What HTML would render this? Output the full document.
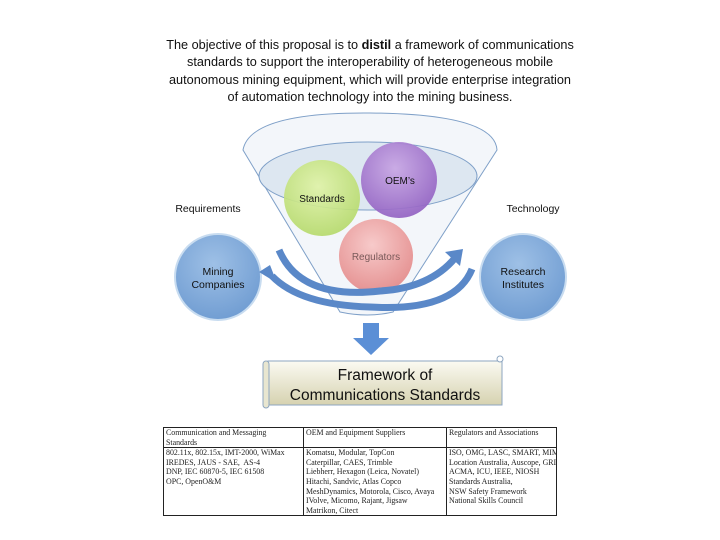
<!DOCTYPE html>
<html><head><style>
body{margin:0;width:720px;height:540px;background:#fff;overflow:hidden;font-family:"Liberation Sans",sans-serif;}
.t{position:absolute;left:0;top:37px;width:740px;text-align:center;font-size:12.7px;line-height:17.3px;color:#111;}
table{position:absolute;left:163px;top:427px;width:394px;border-collapse:collapse;font-family:"Liberation Serif",serif;font-size:7.9px;line-height:9.6px;color:#222;table-layout:fixed;}
td{border:1.3px solid #222;vertical-align:top;padding:0 2px;white-space:nowrap;overflow:hidden;}
</style></head><body>
<div class="t">The objective of this proposal is to <b>distil</b> a framework of communications<br>standards to support the interoperability of heterogeneous mobile<br>autonomous mining equipment, which will provide enterprise integration<br>of automation technology into the mining business.</div>
<svg width="720" height="540" style="position:absolute;left:0;top:0" font-family="Liberation Sans,sans-serif">
<defs>
<radialGradient id="gb" cx="0.45" cy="0.35" r="0.7"><stop offset="0" stop-color="#9ec0e6"/><stop offset="1" stop-color="#6e9bd1"/></radialGradient>
<radialGradient id="gg" cx="0.45" cy="0.35" r="0.7"><stop offset="0" stop-color="#e0f3a8"/><stop offset="1" stop-color="#b3d868"/></radialGradient>
<radialGradient id="gp" cx="0.45" cy="0.35" r="0.7"><stop offset="0" stop-color="#c8a6e4"/><stop offset="1" stop-color="#8f5dc0"/></radialGradient>
<radialGradient id="gr" cx="0.45" cy="0.35" r="0.7"><stop offset="0" stop-color="#f7caca"/><stop offset="1" stop-color="#e48e8e"/></radialGradient>
<linearGradient id="sc" x1="0" y1="0" x2="0" y2="1"><stop offset="0" stop-color="#fbfaf2"/><stop offset="1" stop-color="#d6d2b0"/></linearGradient>
</defs>
<path d="M243,150 Q250,112 370,113 Q495,114 497,150 L393,312 Q368,318 340,312 Z" fill="#f3f6fa" stroke="#7fa0c8" stroke-width="1"/>
<ellipse cx="368" cy="176" rx="109" ry="34" fill="#dde7f1" stroke="#7fa0c8"/>
<circle cx="322" cy="198" r="38" fill="url(#gg)" opacity="0.92"/>
<circle cx="399" cy="180" r="38" fill="url(#gp)" opacity="0.92"/>
<circle cx="376" cy="256" r="37" fill="url(#gr)"/>
<circle cx="218" cy="277" r="43" fill="url(#gb)" stroke="#c8dcf0" stroke-width="2"/>
<circle cx="523" cy="277" r="43" fill="url(#gb)" stroke="#c8dcf0" stroke-width="2"/>
<path d="M279,250 Q300,300 380,291 Q430,288 455,258" fill="none" stroke="#5a88c8" stroke-width="7"/>
<polygon points="445,252 463,249 460,266" fill="#5a88c8"/>
<path d="M472,269 Q455,312 370,307 Q300,305 272,276" fill="none" stroke="#5a88c8" stroke-width="7"/>
<polygon points="259,272 270,265 277,283" fill="#5a88c8"/>
<polygon points="363,323 379,323 379,338 389,338 371,355 353,338 363,338" fill="#5b8fd6"/>
<rect x="268" y="361" width="234" height="44" fill="url(#sc)" stroke="#8ea6c0"/>
<rect x="263" y="361" width="6" height="47" rx="3" fill="#e8e6d0" stroke="#8ea6c0"/>
<circle cx="500" cy="359" r="3" fill="#fff" stroke="#8ea6c0"/>
<g text-anchor="middle" fill="#111">
<text x="322" y="202" font-size="10">Standards</text>
<text x="400" y="184" font-size="10">OEM’s</text>
<text x="376" y="260" font-size="10" fill="#7a5a5a">Regulators</text>
<text x="218" y="275" font-size="10.5">Mining</text>
<text x="218" y="288" font-size="10.5">Companies</text>
<text x="523" y="275" font-size="10.5">Research</text>
<text x="523" y="288" font-size="10.5">Institutes</text>
<text x="208" y="212" font-size="10.5">Requirements</text>
<text x="533" y="212" font-size="10.5">Technology</text>
<text x="385" y="380" font-size="15.5">Framework of</text>
<text x="385" y="400" font-size="15.5">Communications Standards</text>
</g>
</svg>
<table>
<colgroup><col style="width:140px"><col style="width:143px"><col></colgroup>
<tr><td>Communication and Messaging<br>Standards</td><td>OEM and Equipment Suppliers</td><td>Regulators and Associations</td></tr>
<tr><td>802.11x, 802.15x, IMT-2000, WiMax<br>IREDES, JAUS - SAE,&nbsp; AS-4<br>DNP, IEC 60870-5, IEC 61508<br>OPC, OpenO&amp;M</td><td>Komatsu, Modular, TopCon<br>Caterpillar, CAES, Trimble<br>Liebherr, Hexagon (Leica, Novatel)<br>Hitachi, Sandvic, Atlas Copco<br>MeshDynamics, Motorola, Cisco, Avaya<br>IVolve, Micomo, Rajant, Jigsaw<br>Matrikon, Citect</td><td>ISO, OMG, LASC, SMART, MIMOSA<br>Location Australia, Auscope, GRID<br>ACMA, ICU, IEEE, NIOSH<br>Standards Australia,<br>NSW Safety Framework<br>National Skills Council</td></tr>
</table>
</body></html>
